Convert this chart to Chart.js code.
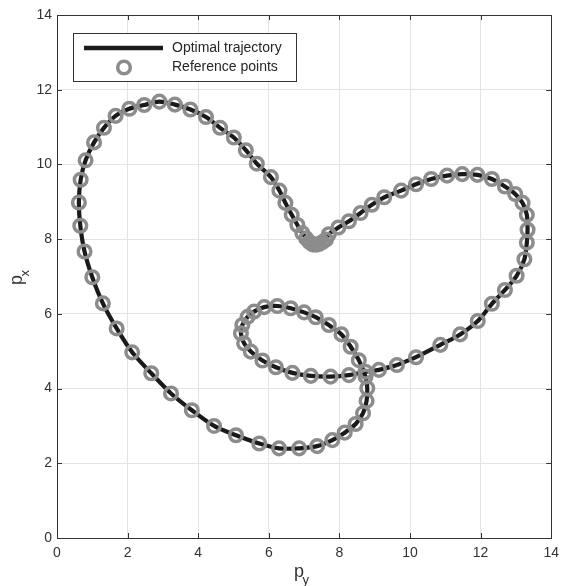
<!DOCTYPE html>
<html>
<head>
<meta charset="utf-8">
<script src="https://cdn.jsdelivr.net/npm/chart.js@4/dist/chart.umd.min.js"></script>
<style>
  html, body { margin: 0; padding: 0; background: #fff; }
  #wrap { width: 561px; height: 586px; }
</style>
</head>
<body>
<div id="wrap"><canvas id="myChart" width="561" height="586"></canvas></div>
<script>
// reference points, p_y (horizontal) and p_x (vertical)
const refPy = [9.63, 9.12, 8.74, 8.27, 7.75, 7.19, 6.67, 6.20, 5.82, 5.49, 5.30, 5.21, 5.25, 5.40, 5.58, 5.87,
	6.24, 6.62, 7.00, 7.33, 7.70, 8.06, 8.32, 8.55, 8.74, 8.79, 8.77, 8.67, 8.46, 8.15, 7.80, 7.37,
	6.86, 6.29, 5.73, 5.07, 4.45, 3.82, 3.23, 2.67, 2.13, 1.69, 1.30, 1.00, 0.78, 0.66, 0.62, 0.67,
	0.81, 1.05, 1.33, 1.66, 2.05, 2.47, 2.90, 3.34, 3.78, 4.22, 4.62, 5.01, 5.35, 5.66, 6.06, 6.30,
	6.47, 6.65, 6.81, 6.95, 7.06, 7.15, 7.24, 7.33, 7.42, 7.52, 7.62, 7.70, 7.97, 8.27, 8.60, 8.92,
	9.27, 9.75, 10.17, 10.60, 11.05, 11.48, 11.91, 12.32, 12.69, 12.98, 13.19, 13.31, 13.33, 13.31, 13.24, 13.02,
	12.69, 12.32, 11.92, 11.42, 10.86, 10.17];
const refPx = [4.63, 4.50, 4.45, 4.36, 4.32, 4.34, 4.42, 4.57, 4.75, 4.99, 5.21, 5.48, 5.70, 5.92, 6.06, 6.18,
	6.21, 6.15, 6.04, 5.91, 5.70, 5.45, 5.12, 4.76, 4.32, 4.01, 3.67, 3.34, 3.05, 2.82, 2.62, 2.46,
	2.40, 2.40, 2.53, 2.75, 3.00, 3.42, 3.87, 4.41, 4.97, 5.61, 6.28, 6.98, 7.67, 8.36, 8.98, 9.59,
	10.11, 10.59, 10.98, 11.30, 11.49, 11.59, 11.68, 11.60, 11.47, 11.27, 10.98, 10.72, 10.38, 10.02, 9.66, 9.30,
	8.97, 8.65, 8.38, 8.16, 8.02, 7.92, 7.86, 7.85, 7.87, 7.92, 7.99, 8.13, 8.31, 8.48, 8.70, 8.92,
	9.12, 9.30, 9.47, 9.61, 9.70, 9.74, 9.72, 9.61, 9.41, 9.21, 8.97, 8.65, 8.25, 7.91, 7.46, 7.02,
	6.64, 6.27, 5.81, 5.45, 5.17, 4.84];
const tickValues = [0, 2, 4, 6, 8, 10, 12, 14];
const seriesNames = ['Optimal trajectory', 'Reference points'];

const lineColor = '#1a1a1a';
const ringColor = '#8c8c8c';
const axisColor = '#333333';
const fontFam = '"Liberation Sans", Arial, sans-serif';

var refPoints = refPy.map((v, i) => ({x: v, y: refPx[i]}));
var trajPoints = refPoints.concat([refPoints[0]]);

// inward ticks, box, axis titles and legend, MATLAB style
const decorations = {
	id: 'decorations',
	afterDraw(chart) {
		const c = chart.ctx, a = chart.chartArea;
		const xs = chart.scales.x, ys = chart.scales.y;
		c.save();
		c.strokeStyle = axisColor;
		c.lineWidth = 1;
		c.beginPath();
		tickValues.forEach((t) => {
			const x = Math.round(xs.getPixelForValue(t)) + 0.5;
			c.moveTo(x, a.bottom); c.lineTo(x, a.bottom - 5);
			c.moveTo(x, a.top); c.lineTo(x, a.top + 5);
			const y = Math.round(ys.getPixelForValue(t)) + 0.5;
			c.moveTo(a.left, y); c.lineTo(a.left + 5, y);
			c.moveTo(a.right, y); c.lineTo(a.right - 5, y);
		});
		c.stroke();
		c.strokeRect(Math.round(a.left) + 0.5, Math.round(a.top) + 0.5,
			Math.round(a.right - a.left), Math.round(a.bottom - a.top));

		// axis titles
		c.fillStyle = axisColor;
		c.textBaseline = 'alphabetic';
		c.textAlign = 'left';
		c.font = '18px ' + fontFam;
		c.fillText('p', 294, 577);
		c.font = '13px ' + fontFam;
		c.fillText('y', 302.5, 584);
		c.translate(22, 281);
		c.rotate(-Math.PI / 2);
		c.font = '18px ' + fontFam;
		c.fillText('p', -4, 0);
		c.font = '13px ' + fontFam;
		c.fillText('x', 4.5, 6.5);
		c.setTransform(1, 0, 0, 1, 0, 0);

		// legend
		c.fillStyle = '#ffffff';
		c.fillRect(73.5, 33.5, 223, 48);
		c.strokeStyle = axisColor;
		c.lineWidth = 1;
		c.strokeRect(73.5, 33.5, 223, 48);
		c.strokeStyle = lineColor;
		c.lineWidth = 4.5;
		c.beginPath();
		c.moveTo(84, 48); c.lineTo(163, 48);
		c.stroke();
		c.strokeStyle = ringColor;
		c.lineWidth = 3.5;
		c.beginPath();
		c.arc(124, 67.5, 6.3, 0, Math.PI * 2);
		c.stroke();
		c.fillStyle = '#262626';
		c.font = '14px ' + fontFam;
		c.textBaseline = 'middle';
		c.fillText(seriesNames[0], 172, 48);
		c.fillText(seriesNames[1], 172, 67.5);
		c.restore();
	}
};

var ctx = document.getElementById('myChart').getContext('2d');
var chart = new Chart(ctx, {
	type: 'scatter',
	data: {
		datasets: [{
			label: seriesNames[1],
			data: refPoints,
			showLine: false,
			pointRadius: 6.3,
			pointBorderWidth: 3.5,
			pointBorderColor: ringColor,
			pointBackgroundColor: 'rgba(0,0,0,0)',
			order: 0
		}, {
			label: seriesNames[0],
			data: trajPoints,
			showLine: true,
			borderColor: lineColor,
			borderWidth: 4.2,
			pointRadius: 0,
			tension: 0.3,
			order: 1
		}]
	},
	options: {
		responsive: false,
		animation: false,
		layout: { padding: { left: 0, right: 7, top: 15, bottom: 0 } },
		plugins: { legend: { display: false }, tooltip: { enabled: false } },
		scales: {
			x: {
				min: 0, max: 14,
				afterBuildTicks: (s) => { s.ticks = tickValues.map(v => ({value: v})); },
				afterFit: (s) => { s.height = 48; s.paddingLeft = 0; s.paddingRight = 0; },
				grid: { color: '#e3e3e3', drawTicks: false },
				border: { display: false },
				ticks: { color: axisColor, padding: 7, font: { family: fontFam, size: 14 } }
			},
			y: {
				min: 0, max: 14,
				afterBuildTicks: (s) => { s.ticks = tickValues.map(v => ({value: v})); },
				afterFit: (s) => { s.width = 57; s.paddingTop = 0; s.paddingBottom = 0; },
				grid: { color: '#e3e3e3', drawTicks: false },
				border: { display: false },
				ticks: { color: axisColor, padding: 5, font: { family: fontFam, size: 14 } }
			}
		}
	},
	plugins: [decorations]
});
</script>
</body>
</html>
